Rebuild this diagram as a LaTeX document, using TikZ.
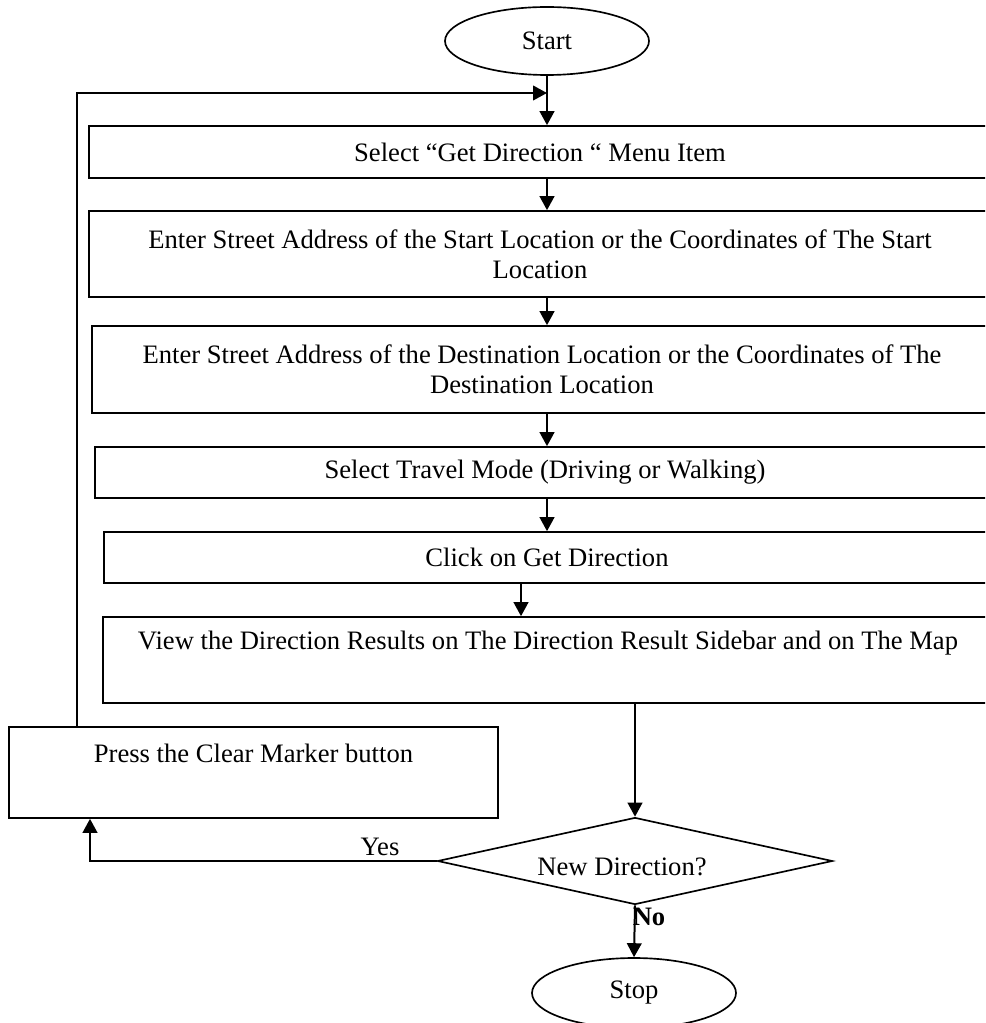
\documentclass[tikz,border=0pt]{standalone}
\usepackage{fontspec}
\setmainfont{Liberation Serif}
\usetikzlibrary{shapes.geometric,arrows.meta}
\newdimen\upx
\upx=0.451pt
\begin{document}
\begin{tikzpicture}[x=0.451pt,y=-0.451pt,
  every node/.style={font=\fontsize{12pt}{13.5pt}\selectfont},
  stepbox/.style={draw,line width=0.75pt,rectangle,inner sep=0pt,align=center},
  terminal/.style={draw,line width=0.75pt,ellipse,inner sep=0pt,minimum width=204\upx},
  decision/.style={draw,line width=0.75pt,diamond,inner sep=0pt,minimum width=395\upx,minimum height=87\upx},
  arr/.style={line width=0.9pt,-{Triangle[length=6.3pt,width=6.6pt]}},
  plain/.style={line width=0.9pt}]
\useasboundingbox (0,0) rectangle (985,1023);
\clip (0,0) rectangle (985,1023);

% terminals
\node[terminal,minimum height=68\upx] (start) at (547,41) {Start};
\node[terminal,minimum height=70\upx] (stop) at (634,993) {Stop};

% process steps
\node[stepbox,minimum width=902\upx,minimum height=52\upx] (s1) at (540,152)
  {Select “Get Direction “ Menu Item};
\node[stepbox,minimum width=902\upx,minimum height=86\upx] (s2) at (540,254)
  {Enter Street Address of the Start Location or the Coordinates of The Start\\Location};
\node[stepbox,minimum width=900\upx,minimum height=87\upx] (s3) at (542,369.5)
  {Enter Street Address of the Destination Location or the Coordinates of The\\Destination Location};
\node[stepbox,minimum width=900\upx,minimum height=51\upx] (s4) at (545,472.5)
  {Select Travel Mode (Driving or Walking)};
\node[stepbox,minimum width=886\upx,minimum height=51\upx] (s5) at (547,557.5)
  {Click on Get Direction};
\node[stepbox,minimum width=890\upx,minimum height=86\upx] (s6) at (548,660)
  {View the Direction Results on The Direction Result Sidebar and on The Map\\\strut};
\node[stepbox,minimum width=489\upx,minimum height=91\upx] (clear) at (253.5,772.5)
  {Press the Clear Marker button\\\strut};

% decision
\node[decision] (dec) at (635,861) {};
\node (dectext) at (622,867) {New Direction?};

% helper points of the connectors
\coordinate (join) at (547,93);
\coordinate (loopcorner) at (77,93);
\coordinate (yescorner) at (90,861);
\coordinate (c56) at (521,0);

% main flow
\draw[arr] (start.south) -- (start.south |- s1.north);
\draw[arr] (s1.south -| join) -- (s2.north -| join);
\draw[arr] (s2.south -| join) -- (s3.north -| join);
\draw[arr] (s3.south -| join) -- (s4.north -| join);
\draw[arr] (s4.south -| join) -- (s5.north -| join);
\draw[arr] (s5.south -| c56) -- (s6.north -| c56);
\draw[arr] (dec.north |- s6.south) -- (dec.north);
\draw[arr] (dec.south) -- (stop.north);

% repeat loop
\draw[arr] (dec.west) -- (yescorner) -- (clear.south -| yescorner);
\draw[arr] (clear.north -| loopcorner) -- (loopcorner) -- (join);

% branch labels
\node (yes) at (380,847) {Yes};
\node[font=\fontsize{12pt}{13.5pt}\selectfont\bfseries] (no) at (649,917) {No};
\end{tikzpicture}
\end{document}
